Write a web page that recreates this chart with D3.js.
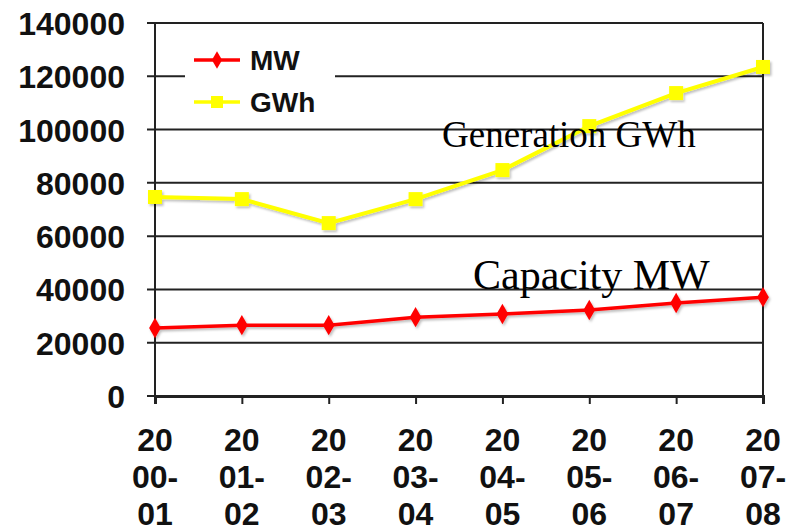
<!DOCTYPE html>
<html>
<head>
<meta charset="utf-8">
<script src="https://cdn.jsdelivr.net/npm/d3@7"></script>
<style>
  body { margin: 0; background: #fff; }
  svg { display: block; }
</style>
</head>
<body>
<div id="chart-area"></div>
<script>
// data
var years = ["2000-01", "2001-02", "2002-03", "2003-04", "2004-05", "2005-06", "2006-07", "2007-08"];
var yearLines = [["20", "00-", "01"], ["20", "01-", "02"], ["20", "02-", "03"], ["20", "03-", "04"],
                 ["20", "04-", "05"], ["20", "05-", "06"], ["20", "06-", "07"], ["20", "07-", "08"]];
var capacityMW = [25500, 26600, 26600, 29600, 30800, 32300, 34900, 37100];
var generationGWh = [74700, 73900, 64900, 73900, 84800, 101300, 113700, 123500];
var yTicks = [0, 20000, 40000, 60000, 80000, 100000, 120000, 140000];

var W = 795, H = 532;
var margin = { left: 155, right: 32, top: 23, bottom: 136 };
var w = W - margin.left - margin.right;
var h = H - margin.top - margin.bottom;

var svg = d3.select("#chart-area").append("svg")
    .attr("width", W).attr("height", H);

var defs = svg.append("defs");
var f = defs.append("filter").attr("id", "shadow")
    .attr("x", "-20%").attr("y", "-20%").attr("width", "140%").attr("height", "160%");
f.append("feDropShadow").attr("dx", 1.5).attr("dy", 2).attr("stdDeviation", 1)
    .attr("flood-color", "#000").attr("flood-opacity", 0.25);

var g = svg.append("g").attr("transform", "translate(" + margin.left + "," + margin.top + ")");

var xScale = d3.scalePoint().domain(years).range([0, w]);
var yScale = d3.scaleLinear().domain([0, 140000]).range([h, 0]);

// grid lines
g.append("g")
    .selectAll("line")
    .data(yTicks)
    .enter().append("line")
    .attr("x1", -8).attr("x2", w)
    .attr("y1", function (d) { return yScale(d); })
    .attr("y2", function (d) { return yScale(d); })
    .attr("stroke", "#222").attr("stroke-width", 2);

// y labels
var yAxis = d3.axisLeft(yScale).tickValues(yTicks).tickSize(0).tickPadding(30)
    .tickFormat(d3.format("d"));
g.append("g").call(yAxis)
    .call(function (s) { s.select(".domain").remove(); })
    .selectAll("text")
    .attr("font-family", "Liberation Sans, Arial, sans-serif")
    .attr("font-weight", "bold")
    .attr("font-size", "32px")
    .attr("fill", "#111")
    .attr("dy", "0.36em");

// left and right borders
g.append("line").attr("x1", 0).attr("x2", 0).attr("y1", 0).attr("y2", h)
    .attr("stroke", "#222").attr("stroke-width", 2);
g.append("line").attr("x1", w).attr("x2", w).attr("y1", 0).attr("y2", h)
    .attr("stroke", "#222").attr("stroke-width", 2);

// x axis
var xAxis = d3.axisBottom(xScale).tickSize(8).tickFormat("");
var xg = g.append("g").attr("transform", "translate(0," + h + ")").call(xAxis);
xg.select(".domain").attr("stroke", "#222").attr("stroke-width", 3);
xg.selectAll(".tick line").attr("stroke", "#222").attr("stroke-width", 2);

var xl = g.append("g").selectAll("text")
    .data(years)
    .enter().append("text")
    .attr("x", function (d) { return xScale(d); })
    .attr("y", h + 55)
    .attr("text-anchor", "middle")
    .attr("font-family", "Liberation Sans, Arial, sans-serif")
    .attr("font-weight", "bold")
    .attr("font-size", "32px")
    .attr("fill", "#111");
xl.selectAll("tspan")
    .data(function (d, i) { return yearLines[i]; })
    .enter().append("tspan")
    .attr("x", function () { return xScale(d3.select(this.parentNode).datum()); })
    .attr("dy", function (d, i) { return i === 0 ? 0 : 37; })
    .text(function (d) { return d; });

// lines
var line = d3.line()
    .x(function (d, i) { return xScale(years[i]); })
    .y(function (d) { return yScale(d); });

var gen = g.append("g").attr("filter", "url(#shadow)");
gen.append("path").datum(generationGWh)
    .attr("d", line).attr("fill", "none")
    .attr("stroke", "#ffff00").attr("stroke-width", 4);
gen.selectAll("rect").data(generationGWh).enter().append("rect")
    .attr("x", function (d, i) { return xScale(years[i]) - 7; })
    .attr("y", function (d) { return yScale(d) - 7; })
    .attr("width", 14).attr("height", 14)
    .attr("fill", "#ffff00");

var cap = g.append("g").attr("filter", "url(#shadow)");
cap.append("path").datum(capacityMW)
    .attr("d", line).attr("fill", "none")
    .attr("stroke", "#ff0000").attr("stroke-width", 3.5);
cap.selectAll("path.mk").data(capacityMW).enter().append("path")
    .attr("class", "mk")
    .attr("d", d3.symbol().type(d3.symbolDiamond).size(120))
    .attr("transform", function (d, i) { return "translate(" + xScale(years[i]) + "," + yScale(d) + ")"; })
    .attr("fill", "#ff0000");

// legend
var lg = g.append("g").attr("transform", "translate(30,17)");
lg.append("rect").attr("x", 0).attr("y", 0).attr("width", 150).attr("height", 72).attr("fill", "#fff");
var legendItems = [
    { name: "MW", color: "#ff0000", sym: "diamond" },
    { name: "GWh", color: "#ffff00", sym: "square" }
];
legendItems.forEach(function (it, i) {
    var y = 20 + i * 42;
    var item = lg.append("g");
    item.append("line").attr("x1", 9).attr("x2", 55).attr("y1", y).attr("y2", y)
        .attr("stroke", it.color).attr("stroke-width", 3.5);
    if (it.sym === "diamond") {
        item.append("path").attr("d", d3.symbol().type(d3.symbolDiamond).size(90))
            .attr("transform", "translate(32," + y + ")").attr("fill", it.color);
    } else {
        item.append("rect").attr("x", 26).attr("y", y - 6).attr("width", 12).attr("height", 12)
            .attr("fill", it.color);
    }
    item.append("text").attr("x", 65).attr("y", y + 10)
        .attr("font-family", "Liberation Sans, Arial, sans-serif")
        .attr("font-weight", "bold").attr("font-size", "28px").attr("fill", "#111")
        .text(it.name);
});

// annotations
g.append("text").attr("x", 442 - margin.left).attr("y", 147 - margin.top)
    .attr("font-family", "Liberation Serif, Times New Roman, serif")
    .attr("font-size", "37px").attr("fill", "#000")
    .text("Generation GWh");
g.append("text").attr("x", 473 - margin.left).attr("y", 289 - margin.top)
    .attr("font-family", "Liberation Serif, Times New Roman, serif")
    .attr("font-size", "42px").attr("fill", "#000")
    .text("Capacity MW");
</script>
</body>
</html>
